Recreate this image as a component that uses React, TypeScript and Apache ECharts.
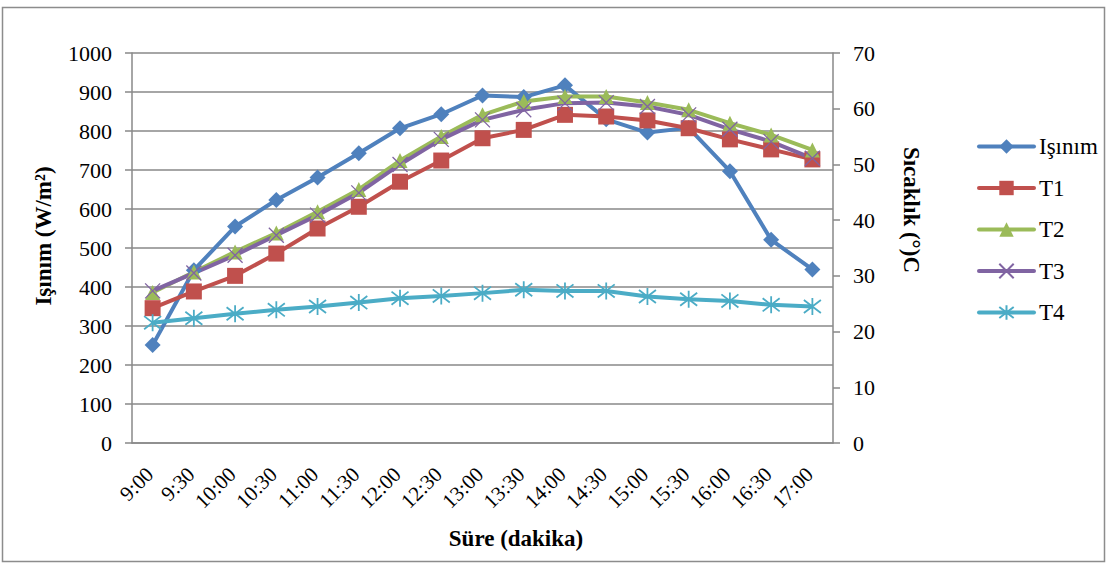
import React, { useEffect, useRef } from "react";
import * as echarts from "echarts";

const categories = ["9:00", "9:30", "10:00", "10:30", "11:00", "11:30", "12:00", "12:30", "13:00", "13:30", "14:00", "14:30", "15:00", "15:30", "16:00", "16:30", "17:00"];
const isinim = [251, 443, 555, 623, 681, 743, 807, 843, 891, 887, 917, 830, 796, 808, 697, 521, 445];
const t1 = [24.2, 27.2, 30.0, 34.0, 38.5, 42.4, 46.9, 50.7, 54.7, 56.2, 58.9, 58.6, 57.9, 56.5, 54.5, 52.7, 50.9];
const t2 = [27.0, 30.7, 34.3, 37.7, 41.5, 45.5, 50.7, 55.0, 58.9, 61.3, 62.2, 62.2, 61.1, 59.8, 57.4, 55.3, 52.6];
const t3 = [27.3, 30.5, 33.7, 37.3, 40.9, 44.9, 50.0, 54.5, 58.0, 59.8, 61.0, 61.1, 60.4, 58.9, 56.3, 54.1, 51.1];
const t4 = [21.6, 22.4, 23.2, 23.9, 24.5, 25.2, 26.0, 26.4, 26.9, 27.5, 27.3, 27.3, 26.3, 25.8, 25.5, 24.8, 24.5];

const FONT = "'Liberation Serif', 'Times New Roman', serif";
const GRID = "#898989";

export default function App() {
  const ref = useRef<HTMLDivElement>(null);
  useEffect(() => {
    if (!ref.current) return;
    const chart = echarts.init(ref.current, null, { renderer: "svg" });
    const line = (name: string, data: number[], color: string, symbol: string, size: number, yAxisIndex: number, extra: any = {}) => ({
      name,
      type: "line",
      data,
      yAxisIndex,
      symbol,
      symbolSize: size,
      showAllSymbol: true,
      lineStyle: { color, width: 4 },
      itemStyle: { color, ...extra },
    });
    chart.setOption({
      animation: false,
      textStyle: { fontFamily: FONT },
      grid: { left: 132, right: 274, top: 53, bottom: 120 },
      legend: {
        orient: "vertical",
        left: 972,
        top: 130,
        itemWidth: 55,
        itemHeight: 18,
        itemGap: 18.5,
        lineStyle: { width: 4, cap: "round" },
        textStyle: { fontFamily: FONT, fontSize: 23, color: "#000" },
        data: ["Işınım", "T1", "T2", "T3", "T4"],
      },
      xAxis: {
        type: "category",
        data: categories,
        boundaryGap: true,
        axisLine: { lineStyle: { color: GRID, width: 1.5 } },
        axisTick: { length: 6, lineStyle: { color: GRID, width: 1.5 } },
        axisLabel: { rotate: 45, margin: 25, padding: [0, 4, 0, 0], fontSize: 21, color: "#000", fontFamily: FONT, interval: 0 },
      },
      yAxis: [
        {
          type: "value",
          min: 0,
          max: 1000,
          interval: 100,
          axisLine: { show: true, lineStyle: { color: GRID, width: 1.5 } },
          axisTick: { show: true, length: 7, lineStyle: { color: GRID, width: 1.5 } },
          axisLabel: { margin: 20, fontSize: 22, color: "#000", fontFamily: FONT, formatter: (v: number) => String(v) },
          splitLine: { lineStyle: { color: GRID, width: 1.5 } },
        },
        {
          type: "value",
          min: 0,
          max: 70,
          interval: 10,
          position: "right",
          axisLine: { show: true, lineStyle: { color: GRID, width: 1.5 } },
          axisTick: { show: true, length: 7, lineStyle: { color: GRID, width: 1.5 } },
          axisLabel: { margin: 20, fontSize: 22, color: "#000", fontFamily: FONT, formatter: (v: number) => String(v) },
          splitLine: { show: false },
        },
      ],
      series: [
        line("Işınım", isinim, "#4F81BD", "diamond", 16, 0),
        line("T1", t1, "#C0504D", "rect", 16, 1),
        line("T2", t2, "#9BBB59", "triangle", 15, 1),
        line("T3", t3, "#8064A2", "path://M0,0L10,10M10,0L0,10", 15, 1, { borderColor: "#8064A2", borderWidth: 1.3 }),
        line("T4", t4, "#4BACC6", "path://M0,0L10,10M10,0L0,10M5,-1.5L5,11.5", 17, 1, { borderColor: "#4BACC6", borderWidth: 1.8 }),
      ],
      graphic: [
        {
          type: "rect",
          shape: { x: 2.5, y: 7.5, width: 1102, height: 554 },
          style: { fill: "none", stroke: "#8c8c8c", lineWidth: 1.5 },
          silent: true,
        },
        {
          type: "text",
          x: 516,
          y: 538,
          style: { text: "Süre (dakika)", font: `bold 23px ${FONT}`, fill: "#000", textAlign: "center", textVerticalAlign: "middle" },
        },
        {
          type: "text",
          x: 43,
          y: 236,
          rotation: Math.PI / 2,
          style: { text: "Işınım (W/m²)", font: `bold 23px ${FONT}`, fill: "#000", textAlign: "center", textVerticalAlign: "middle" },
        },
        {
          type: "text",
          x: 911,
          y: 210,
          rotation: -Math.PI / 2,
          style: { text: "Sıcaklık (°)C", font: `bold 23px ${FONT}`, fill: "#000", textAlign: "center", textVerticalAlign: "middle" },
        },
      ],
    });
    return () => chart.dispose();
  }, []);
  return <div ref={ref} style={{ position: "fixed", left: 0, top: 0, width: 1107, height: 563, background: "#fff" }} />;
}
